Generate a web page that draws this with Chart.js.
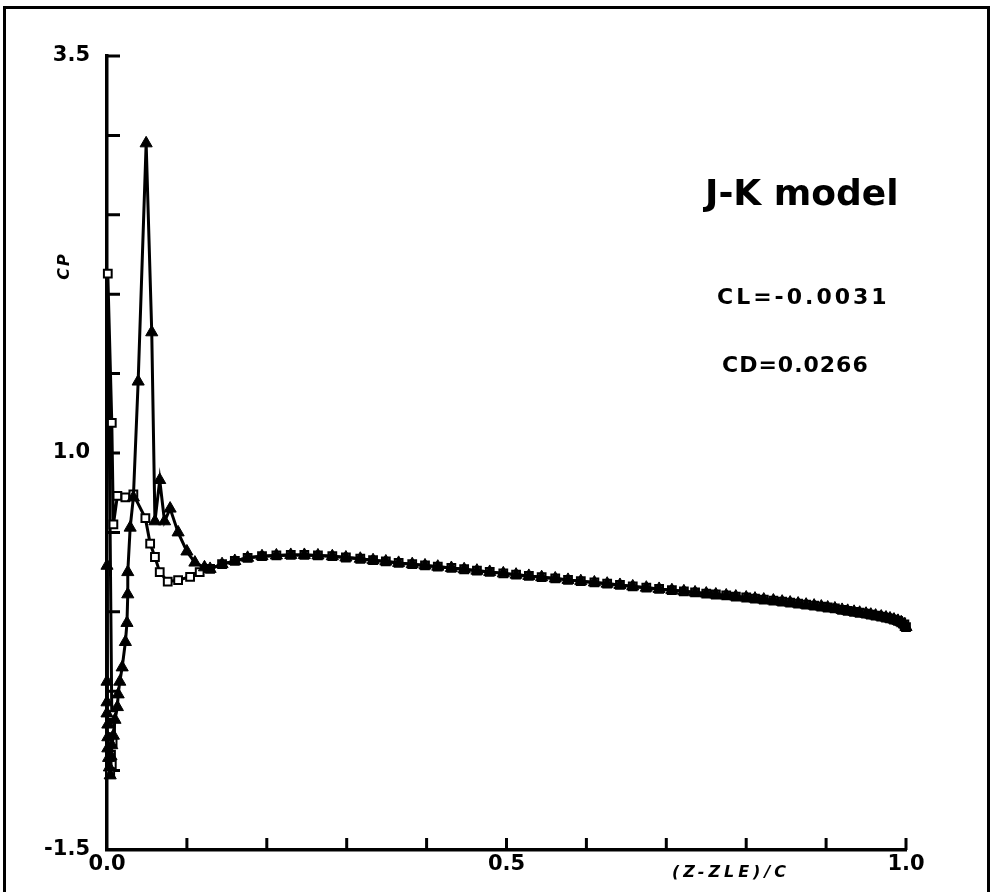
<!DOCTYPE html>
<html lang="en">
<head>
    <meta charset="UTF-8">
    <title>J-K model CP</title>
    <script src="https://cdn.jsdelivr.net/npm/chart.js@4.4.1/dist/chart.umd.min.js"></script>
    <style>
        body { margin: 0; background: #fff; overflow: hidden; }
        .wrap { position: relative; width: 993px; height: 892px; }
        .frame {
            position: absolute; left: 3px; top: 6px; width: 981px; height: 920px;
            border: 3px solid #000; border-bottom: none;
        }
        canvas { position: absolute; left: 0; top: 0; }
    </style>
</head>
<body>
<div class="wrap">
    <div class="frame"></div>
    <canvas id="cpChart" width="993" height="892"></canvas>
</div>
<script>
    // shared part of both surfaces (they lie on top of each other past x/c ~ 0.12)
    const tailX = [0.076, 0.089, 0.104, 0.116, 0.129, 0.144, 0.160, 0.176, 0.194, 0.212,
        0.230, 0.247, 0.264, 0.282, 0.299, 0.317, 0.333, 0.349, 0.365, 0.382,
        0.398, 0.414, 0.431, 0.447, 0.463, 0.479, 0.496, 0.512, 0.528, 0.544,
        0.561, 0.577, 0.593, 0.610, 0.626, 0.642, 0.658, 0.675, 0.691, 0.707,
        0.722, 0.736, 0.750, 0.762, 0.775, 0.787, 0.800, 0.811, 0.822, 0.834,
        0.845, 0.855, 0.865, 0.875, 0.885, 0.894, 0.902, 0.911, 0.920, 0.927,
        0.935, 0.942, 0.950, 0.956, 0.962, 0.969, 0.975, 0.980, 0.985, 0.990,
        0.994, 0.998, 1.000];
    const tailCp = [0.19, 0.20, 0.22, 0.25, 0.27, 0.30, 0.32, 0.34, 0.35, 0.355,
        0.358, 0.358, 0.355, 0.350, 0.342, 0.334, 0.325, 0.317, 0.308, 0.300,
        0.292, 0.284, 0.276, 0.268, 0.259, 0.251, 0.242, 0.234, 0.226, 0.218,
        0.210, 0.201, 0.193, 0.185, 0.177, 0.169, 0.160, 0.152, 0.144, 0.136,
        0.129, 0.122, 0.115, 0.109, 0.103, 0.096, 0.090, 0.083, 0.077, 0.071,
        0.064, 0.058, 0.052, 0.045, 0.039, 0.033, 0.027, 0.021, 0.012, 0.006,
        0.000, -0.006, -0.012, -0.018, -0.024, -0.030, -0.036, -0.042, -0.049, -0.057,
        -0.066, -0.080, -0.096];

    // square symbols, leading edge part
    const sqX = [0.004, 0.006, 0.005, 0.007, 0.005, 0.006, 0.001, 0.006, 0.008, 0.013,
        0.023, 0.033, 0.048, 0.054, 0.060, 0.066];
    const sqCp = [-1.02, -0.96, -0.90, -0.82, -0.74, -0.65, 2.13, 1.19, 0.55, 0.73,
        0.72, 0.74, 0.59, 0.43, 0.345, 0.25];

    // triangle symbols, leading edge part
    const triX = [0.000, 0.000, 0.000, 0.000, 0.001, 0.001, 0.001, 0.002, 0.003, 0.004,
        0.005, 0.006, 0.008, 0.010, 0.013, 0.014, 0.016, 0.019, 0.023, 0.025,
        0.026, 0.026, 0.029, 0.033, 0.039, 0.049, 0.056, 0.060, 0.066, 0.072,
        0.079, 0.089, 0.100, 0.110, 0.122];
    const triCp = [0.29, -0.44, -0.57, -0.64, -0.71, -0.79, -0.86, -0.92, -0.98, -1.03,
        -0.91, -0.84, -0.78, -0.68, -0.60, -0.52, -0.44, -0.35, -0.19, -0.07,
        0.11, 0.25, 0.53, 0.72, 1.45, 2.95, 1.76, 0.57, 0.83, 0.57,
        0.65, 0.50, 0.38, 0.31, 0.28];

    const xLabels = { '0.0': '0.0', '0.5': '0.5', '1.0': '1.0' };
    const yLabels = { '3.5': '3.5', '1.0': '1.0', '-1.5': '-1.5' };

    function toPoints(xs, ys) {
        return xs.map((x, i) => ({ x: x, y: ys[i] }));
    }

    const squarePts = toPoints(sqX, sqCp).concat(toPoints(tailX, tailCp));
    const trianglePts = toPoints(triX, triCp).concat(
        toPoints(tailX, tailCp).filter(p => p.x > 0.125));

    // inward tick marks + free text of the plot
    const axisMarks = {
        id: 'axisMarks',
        beforeDatasetsDraw(chart) {
            const ctx = chart.ctx, xs = chart.scales.x, ys = chart.scales.y;
            const a = chart.chartArea;
            ctx.save();
            ctx.strokeStyle = '#000';
            ctx.lineWidth = 3;
            ctx.beginPath();
            xs.ticks.forEach(t => {
                if (t.value < 0.05) return;
                const px = xs.getPixelForValue(t.value);
                ctx.moveTo(px, a.bottom);
                ctx.lineTo(px, a.bottom - 12);
            });
            ys.ticks.forEach(t => {
                if (t.value < -1.45) return;
                const py = ys.getPixelForValue(t.value);
                ctx.moveTo(a.left, py);
                ctx.lineTo(a.left + 13, py);
            });
            ctx.stroke();
            ctx.restore();
        },
        afterDraw(chart) {
            const ctx = chart.ctx;
            ctx.save();
            ctx.fillStyle = '#000';
            ctx.textBaseline = 'alphabetic';
            ctx.textAlign = 'left';

            ctx.font = 'bold 36px "DejaVu Sans"';
            ctx.letterSpacing = '0px';
            ctx.fillText('J-K model', 705, 205);

            ctx.font = 'bold 22px "DejaVu Sans"';
            ctx.letterSpacing = '3px';
            ctx.fillText('CL=-0.0031', 717, 304);
            ctx.letterSpacing = '1px';
            ctx.fillText('CD=0.0266', 722, 372);

            ctx.font = 'italic bold 16px "DejaVu Sans"';
            ctx.letterSpacing = '4px';
            ctx.fillText('(Z-ZLE)/C', 672, 877);

            ctx.translate(69, 266);
            ctx.rotate(-Math.PI / 2);
            ctx.font = 'italic bold 16px "DejaVu Sans"';
            ctx.letterSpacing = '2px';
            ctx.textAlign = 'center';
            ctx.fillText('CP', 0, 0);
            ctx.restore();
        }
    };

    new Chart(document.getElementById('cpChart').getContext('2d'), {
        type: 'scatter',
        data: {
            datasets: [{
                label: 'triangles',
                data: trianglePts,
                showLine: true,
                borderColor: '#000',
                borderWidth: 3,
                pointStyle: 'triangle',
                pointRadius: 7,
                pointBackgroundColor: '#000',
                pointBorderColor: '#000',
                pointBorderWidth: 1,
                clip: false
            }, {
                label: 'squares',
                data: squarePts,
                showLine: true,
                borderColor: '#000',
                borderWidth: 3,
                pointStyle: 'rect',
                pointRadius: 5.5,
                pointBackgroundColor: '#fff',
                pointBorderColor: '#000',
                pointBorderWidth: 2,
                clip: false
            }]
        },
        options: {
            responsive: false,
            animation: false,
            events: [],
            layout: { padding: { left: 0, top: 56, right: 87, bottom: 0 } },
            plugins: {
                legend: { display: false },
                tooltip: { enabled: false }
            },
            scales: {
                x: {
                    type: 'linear',
                    min: 0,
                    max: 1,
                    afterFit: s => { s.height = 42; },
                    grid: { display: true, drawOnChartArea: false, drawTicks: false },
                    border: { display: true, color: '#000', width: 3.5 },
                    ticks: {
                        stepSize: 0.1,
                        autoSkip: false,
                        maxRotation: 0,
                        padding: 2,
                        color: '#000',
                        font: { family: 'DejaVu Sans', size: 21, weight: 'bold' },
                        callback: v => xLabels[v.toFixed(1)] || ''
                    }
                },
                y: {
                    type: 'linear',
                    min: -1.5,
                    max: 3.5,
                    afterFit: s => { s.width = 107; },
                    grid: { display: true, drawOnChartArea: false, drawTicks: false },
                    border: { display: true, color: '#000', width: 3.5 },
                    ticks: {
                        stepSize: 0.5,
                        autoSkip: false,
                        padding: 17,
                        color: '#000',
                        font: { family: 'DejaVu Sans', size: 21, weight: 'bold' },
                        callback: v => yLabels[v.toFixed(1)] || ''
                    }
                }
            }
        },
        plugins: [axisMarks]
    });
</script>
</body>
</html>
